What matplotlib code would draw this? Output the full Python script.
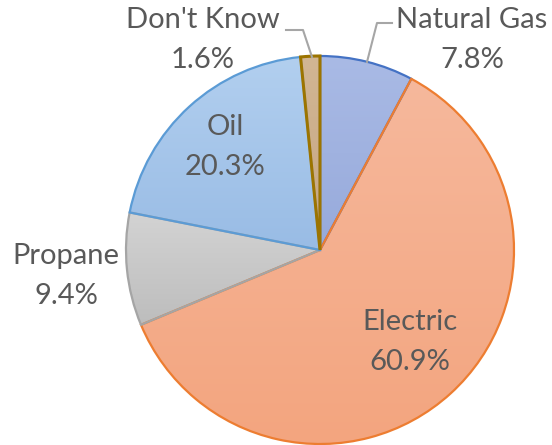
import matplotlib
matplotlib.use("Agg")
import matplotlib.pyplot as plt
import numpy as np
from matplotlib.colors import to_rgb

# home heating fuel shares, pie in excel style

#-----------------------------------------------------------------------------

labels = ["Natural Gas", "Electric", "Propane", "Oil", "Don't Know"]
shares = [7.8, 60.9, 9.4, 20.3, 1.6]

fill_top = ["#A9BAE5", "#F6B89C", "#D3D3D3", "#B2CFEF", "#D2B694"]
fill_bot = ["#97AADB", "#F3A57F", "#BDBDBD", "#99BCE5", "#C5A684"]
edges = ["#4472C4", "#ED7D31", "#A5A5A5", "#5B9BD5", "#9C7400"]

W, H = 552, 445
txt_color = "#595959"
fsize = 21

fig = plt.figure(figsize=(W/100.0, H/100.0), dpi=100)
ax = fig.add_axes([0, 0, 1, 1])
ax.set_xlim(0, W)
ax.set_ylim(0, H)
ax.set_aspect("equal")
ax.axis("off")

# pixel rows are counted from the top in the reference
def py(y):
    return H - y

cx, cy, r = 320, py(250), 194

wedges, _ = ax.pie(shares, startangle=90, counterclock=False,
                   center=(cx, cy), radius=r, frame=False,
                   wedgeprops=dict(linewidth=1.6))

for i, w in enumerate(wedges):
    bb = w.get_path().get_extents()
    t = np.linspace(0, 1, 64)[:, None]
    c0 = np.array(to_rgb(fill_top[i]))
    c1 = np.array(to_rgb(fill_bot[i]))
    grad = (c0*(1-t) + c1*t)[:, None, :]
    im = ax.imshow(grad, extent=[bb.x0, bb.x1, bb.y0, bb.y1], origin="upper",
                   aspect="auto", zorder=1, interpolation="bilinear")
    im.set_clip_path(w)
    w.set_facecolor("none")
    w.set_edgecolor(edges[i])
    w.set_zorder(2)
wedges[4].set_linewidth(2.2)
wedges[4].set_zorder(3)

ax.set_xlim(0, W)
ax.set_ylim(0, H)

# data labels
def label(x, y, name, val):
    ax.text(x, py(y), name + "\n" + ("%.1f%%" % val), ha="center", va="center",
            fontsize=fsize, color=txt_color, family=["Lato", "DejaVu Sans"],
            linespacing=1.7, zorder=5)

label(472, 40, labels[0], shares[0])
label(410, 342, labels[1], shares[1])
label(66, 276, labels[2], shares[2])
label(225, 147, labels[3], shares[3])
label(203, 40, labels[4], shares[4])

# leader lines
ax.plot([392, 377, 367], [py(23), py(23), py(62)], color="#A6A6A6", lw=1.5, zorder=4)
ax.plot([286, 303, 312], [py(30), py(30), py(57)], color="#A6A6A6", lw=1.5, zorder=4)

fig.savefig("out.png", dpi=100)
